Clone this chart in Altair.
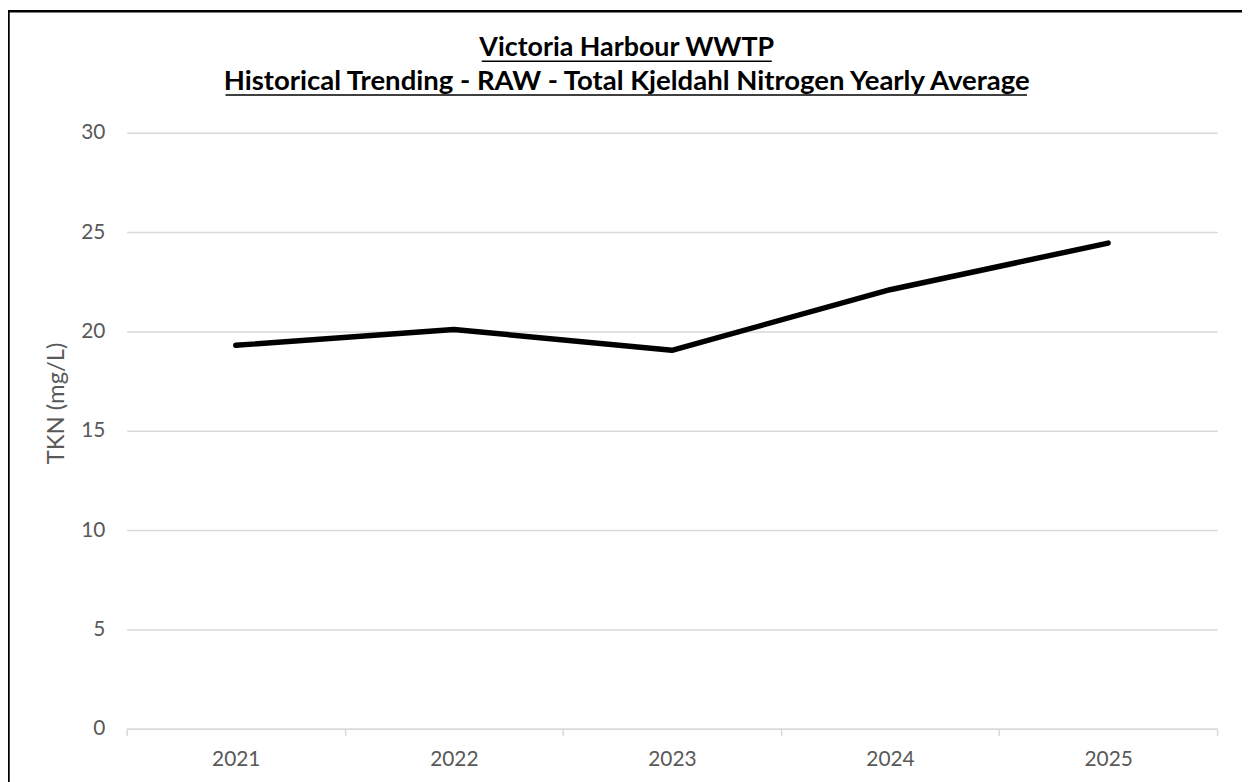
import altair as alt
import pandas as pd

YEARS = ["2021", "2022", "2023", "2024", "2025"]
TKN = [19.3, 20.1, 19.05, 22.1, 24.45]
Y_TICKS = [0, 5, 10, 15, 20, 25, 30]
TITLE_1 = ["Victoria Harbour WWTP"]
TITLE_2 = ["Historical Trending - RAW - Total Kjeldahl Nitrogen Yearly Average"]
Y_TITLE = "TKN (mg/L)"

df = pd.DataFrame({"Year": YEARS, "TKN": TKN})

W, H = 1098, 600
PAD_L, PAD_T = 119.5, 123
FONT = "Lato"
GRID = "#d9d9d9"
LABEL = "#595959"

x = alt.X(
    "Year:O",
    scale=alt.Scale(type="band", paddingInner=0, paddingOuter=0),
    bandPosition=0.5,
    axis=alt.Axis(
        title=None, tickBand="extent", labelAngle=0, grid=False,
        domainColor=GRID, domainWidth=1.5, tickColor=GRID, tickWidth=1.5, tickSize=7,
        labelColor=LABEL, labelFontSize=21, labelFont=FONT, labelPadding=13,
    ),
)
y = alt.Y(
    "TKN:Q",
    scale=alt.Scale(domain=[0, 30], nice=False, zero=True),
    axis=alt.Axis(
        values=Y_TICKS, title=Y_TITLE, domain=False, ticks=False,
        gridColor=GRID, gridWidth=1.5,
        labelColor=LABEL, labelFontSize=21, labelFont=FONT, labelPadding=22,
        titleColor=LABEL, titleFontSize=24, titleFont=FONT, titleFontWeight="normal",
        titleX=-70.5, titleY=272, titleBaseline="middle", titleAngle=270,
    ),
)

line = alt.Chart(df).mark_line(color="black", strokeWidth=5.5, strokeCap="round", strokeJoin="round").encode(x=x, y=y)

one = pd.DataFrame({"k": [0]})

t1 = alt.Chart(pd.DataFrame({"t": TITLE_1})).mark_text(
    font=FONT, fontSize=27, fontWeight="bold", color="black", align="center", baseline="middle"
).encode(text="t:N", x=alt.value(503.5), y=alt.value(-85))
t2 = alt.Chart(pd.DataFrame({"t": TITLE_2})).mark_text(
    font=FONT, fontSize=27.7, fontWeight="bold", color="black", align="center", baseline="middle"
).encode(text="t:N", x=alt.value(503.5), y=alt.value(-51))

u1 = alt.Chart(one).mark_rule(color="black", strokeWidth=1.5).encode(
    x=alt.value(357.5), x2=alt.value(649.5), y=alt.value(-72))
u2 = alt.Chart(one).mark_rule(color="black", strokeWidth=1.5).encode(
    x=alt.value(99.5), x2=alt.value(906.5), y=alt.value(-38))

b_top = alt.Chart(one).mark_rule(color="black", strokeWidth=2.5).encode(
    x=alt.value(-119.5), x2=alt.value(W + 40), y=alt.value(-122.5))
b_left = alt.Chart(one).mark_rule(color="black", strokeWidth=2.5).encode(
    x=alt.value(-119), y=alt.value(-123), y2=alt.value(H + 80))

chart = alt.layer(line, t1, t2, u1, u2, b_top, b_left).properties(
    width=W, height=H,
    padding={"left": PAD_L, "top": PAD_T, "right": 25, "bottom": 51},
    autosize=alt.AutoSizeParams(type="none"),
    background="white",
).configure_view(stroke=None)

chart.save("out.html", embed_options={"renderer": "svg", "actions": False})
